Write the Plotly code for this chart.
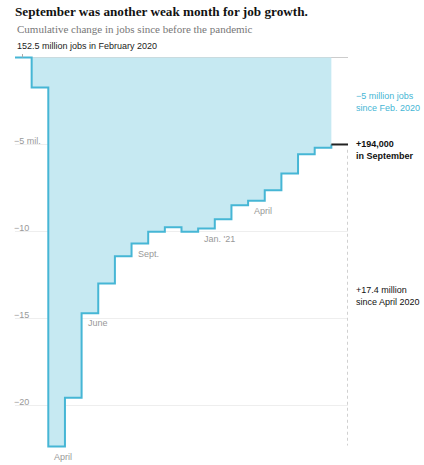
import plotly.graph_objects as go

# Months from Feb 2020 to Sep 2021, cumulative change in jobs (millions) since Feb 2020
months = ['Feb 2020', 'Mar 2020', 'Apr 2020', 'May 2020', 'Jun 2020', 'Jul 2020',
          'Aug 2020', 'Sep 2020', 'Oct 2020', 'Nov 2020', 'Dec 2020', 'Jan 2021',
          'Feb 2021', 'Mar 2021', 'Apr 2021', 'May 2021', 'Jun 2021', 'Jul 2021',
          'Aug 2021', 'Sep 2021']
change = [0, -1.72, -22.36, -19.56, -14.7, -12.99, -11.42, -10.69, -10.02, -9.75,
          -10.02, -9.83, -9.29, -8.49, -8.24, -7.63, -6.67, -5.56, -5.19, -5.0]

# labelled months under the step line
month_labels = {'Apr 2020': 'April', 'Jun 2020': 'June', 'Sep 2020': 'Sept.',
                'Jan 2021': "Jan. '21", 'Apr 2021': 'April'}

tick_vals = [-5, -10, -15, -20]
tick_text = ['\u22125 mil.', '\u221210', '\u221215', '\u221220']

# right-hand notes: (text, y in millions, colour)
notes = [('\u22125 million jobs<br>since Feb. 2020', -2.55, '#46b6d5'),
         ('<b>+194,000<br>in September</b>', -5.29, '#111111'),
         ('+17.4 million<br>since April 2020', -13.73, '#111111')]

BLUE = '#46b6d5'
FILL = '#c6e9f2'
SANS = 'Liberation Sans, Arial, sans-serif'
SERIF = 'Liberation Serif, Georgia, serif'

# step positions: each month occupies one unit, extra point closes the last step
x_step = list(range(len(months))) + [len(months)]
y_step = change + [change[-1]]

fig = go.Figure()

fig.add_trace(go.Scatter(
    x=x_step[:-1], y=y_step[:-1], mode='lines', line_shape='hv',
    line=dict(color=BLUE, width=2), fill='tozeroy', fillcolor=FILL,
    cliponaxis=False, hoverinfo='skip'))

# last month drawn in black
fig.add_trace(go.Scatter(
    x=x_step[-2:], y=y_step[-2:], mode='lines',
    line=dict(color='#222222', width=2), cliponaxis=False, hoverinfo='skip'))

# dotted guide at the right edge
fig.add_shape(type='line', x0=len(months), x1=len(months), y0=change[-1] - 0.3, y1=-22.3,
              line=dict(color='#d0d0d0', width=2, dash='dot'))
# small tick for the top label
fig.add_shape(type='line', x0=0.45, x1=0.45, y0=0, y1=0.35,
              line=dict(color='#aaaaaa', width=1))

for m, txt in month_labels.items():
    i = months.index(m)
    fig.add_annotation(x=i, y=change[i], text=txt, showarrow=False,
                       xanchor='left', yanchor='top', xshift=4, yshift=-3,
                       font=dict(family=SANS, size=9, color='#999999'))

fig.add_annotation(x=0, y=0, text='152.5 million jobs in February 2020', showarrow=False,
                   xanchor='left', yanchor='bottom', yshift=4,
                   font=dict(family=SANS, size=9, color='#222222'))

for txt, yv, col in notes:
    fig.add_annotation(x=1, xref='paper', y=yv, text=txt, showarrow=False,
                       xanchor='left', xshift=6, align='left',
                       font=dict(family=SANS, size=9, color=col))

fig.update_layout(
    width=424, height=465,
    margin=dict(l=15, r=76, t=54, b=16),
    plot_bgcolor='white', paper_bgcolor='white',
    showlegend=False,
    title=dict(text='<b>September was another weak month for job growth.</b>',
               x=0, xref='paper', xanchor='left', y=0.985, yanchor='top',
               font=dict(family=SERIF, size=13.2, color='#121212')),
    xaxis=dict(range=[0, len(months)], showgrid=False, zeroline=False,
               showticklabels=False, fixedrange=True),
    yaxis=dict(range=[-22.5, 0.2], tickvals=tick_vals, ticktext=tick_text,
               ticklabelposition='inside top', ticklabelstandoff=-4, ticklabelshift=3,
               gridcolor='#eeeeee',
               zeroline=True, zerolinecolor='#cccccc', zerolinewidth=1,
               tickfont=dict(family=SANS, size=9, color='#999999'), fixedrange=True),
)

fig.add_annotation(x=0, xref='paper', y=1, yref='paper', yshift=17,
                   text='Cumulative change in jobs since before the pandemic',
                   showarrow=False, xanchor='left', yanchor='bottom',
                   font=dict(family=SERIF, size=11, color='#777777'))

# drop the browser's default page margin so the figure sits at the corner
fig.write_html('out.html', config={'displayModeBar': False},
               post_script="document.body.style.margin='0';")
